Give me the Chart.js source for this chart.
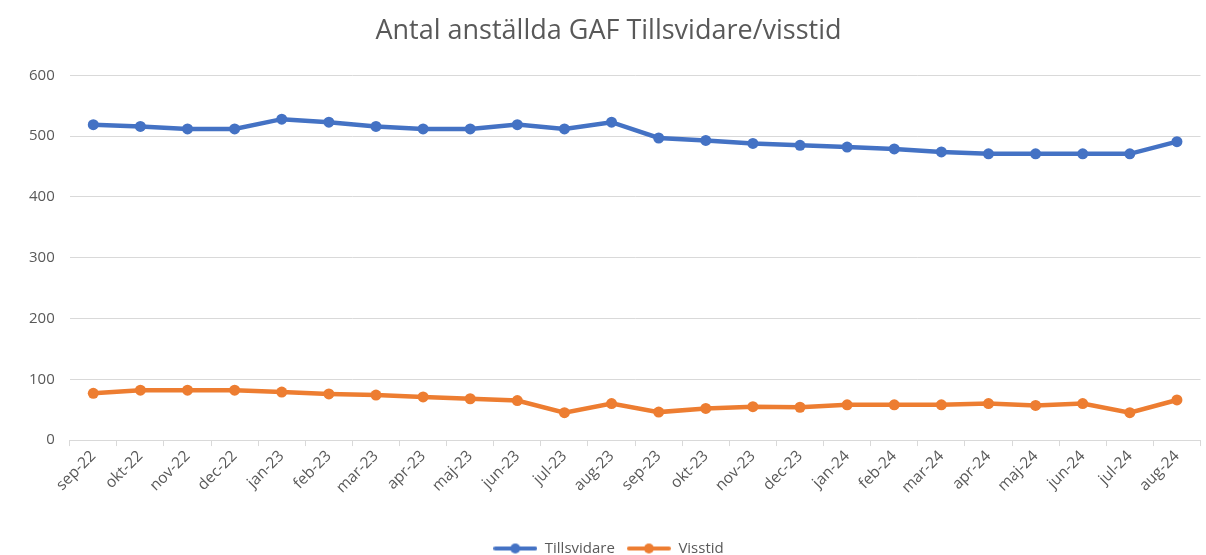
<!DOCTYPE html>
<html>
<head>
<meta charset="utf-8">
<script src="https://cdn.jsdelivr.net/npm/chart.js@4.4.0/dist/chart.umd.min.js"></script>
<style>
  html, body { margin: 0; padding: 0; background: #fff; overflow: hidden; }
  #wrap { position: relative; width: 1206px; height: 566px; }
</style>
</head>
<body>
<div id="wrap"><canvas id="c"></canvas></div>
<script>
// Månader och värden
const months = ['sep-22','okt-22','nov-22','dec-22','jan-23','feb-23','mar-23','apr-23','maj-23','jun-23','jul-23','aug-23',
                'sep-23','okt-23','nov-23','dec-23','jan-24','feb-24','mar-24','apr-24','maj-24','jun-24','jul-24','aug-24'];
const tillsvidare = [519,516,512,512,528,523,516,512,512,519,512,523,497,493,488,485,482,479,474,471,471,471,471,491];
const visstid = [77,82,82,82,79,76,74,71,68,65,45,60,46,52,55,54,58,58,58,60,57,60,45,66];
const yTicks = [0,100,200,300,400,500,600];

const BLUE = '#4472C4';
const ORANGE = '#ED7D31';
const TEXT = '#595959';

// legendsymbol: linje med punkt i mitten
function legendGlyph(color) {
  const cv = document.createElement('canvas');
  cv.width = 44; cv.height = 12;
  const g = cv.getContext('2d');
  g.strokeStyle = color; g.lineWidth = 4; g.lineCap = 'round';
  g.beginPath(); g.moveTo(2, 6); g.lineTo(42, 6); g.stroke();
  g.fillStyle = color;
  g.beginPath(); g.arc(22, 6, 5, 0, Math.PI * 2); g.fill();
  return cv;
}

const ds = (label, data, color) => ({
  label, data,
  borderColor: color, backgroundColor: color,
  borderWidth: 4.5, pointRadius: 5.5, pointHoverRadius: 5.5, pointBorderWidth: 0,
  pointBackgroundColor: color, pointBorderColor: color,
  tension: 0
});

new Chart(document.getElementById('c'), {
  type: 'line',
  data: {
    labels: months,
    datasets: [ds('Tillsvidare', tillsvidare, BLUE), ds('Visstid', visstid, ORANGE)]
  },
  options: {
    responsive: true,
    maintainAspectRatio: false,
    animation: false,
    layout: { padding: { left: 14, right: 3, top: 13, bottom: 0 } },
    plugins: {
      title: {
        display: true,
        text: 'Antal anställda GAF Tillsvidare/visstid',
        color: TEXT,
        font: { family: 'Open Sans', size: 27, weight: 'normal' },
        padding: { top: 2, bottom: 28 }
      },
      legend: {
        position: 'bottom',
        labels: {
          color: TEXT,
          font: { family: 'Open Sans', size: 15 },
          usePointStyle: true,
          pointStyleWidth: 44,
          boxHeight: 12,
          padding: 12,
          generateLabels: chart => Chart.defaults.plugins.legend.labels.generateLabels(chart).map(l => {
            l.pointStyle = legendGlyph(chart.data.datasets[l.datasetIndex].borderColor);
            return l;
          })
        }
      },
      tooltip: { enabled: false }
    },
    scales: {
      x: {
        offset: true,
        afterFit: s => { s.height += 31; },
        grid: { offset: true, drawOnChartArea: false, drawTicks: true, tickLength: 6, color: '#d9d9d9' },
        border: { color: '#d9d9d9' },
        ticks: { color: TEXT, font: { family: 'Open Sans', size: 15.5 }, minRotation: 45, maxRotation: 45, autoSkip: false, padding: 1 }
      },
      y: {
        min: 0, max: 600,
        afterBuildTicks: axis => { axis.ticks = yTicks.map(v => ({ value: v })); },
        grid: { color: '#d9d9d9', drawTicks: false },
        border: { display: false },
        ticks: { color: TEXT, font: { family: 'Open Sans', size: 15 }, padding: 15 }
      }
    }
  }
});
</script>
</body>
</html>
